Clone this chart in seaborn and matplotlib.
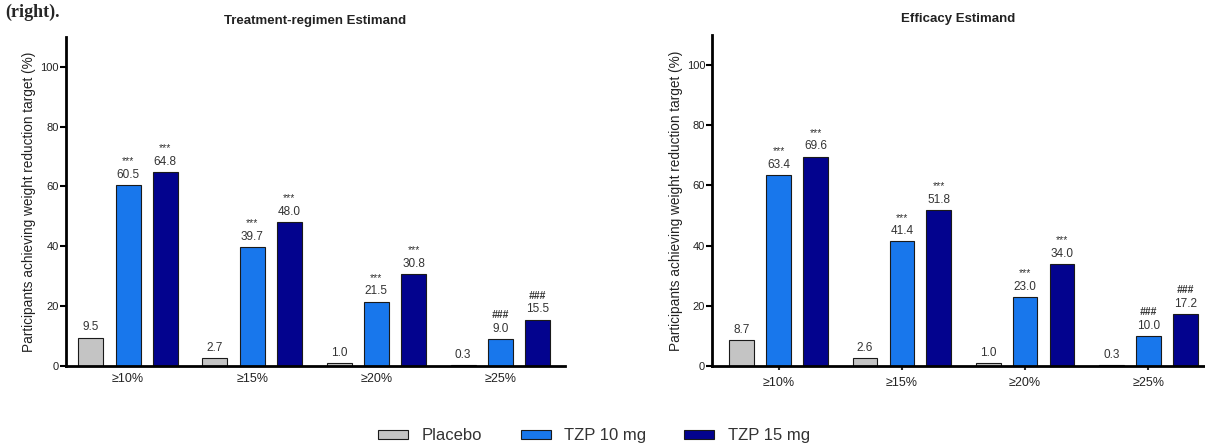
import matplotlib
matplotlib.use("Agg")
import matplotlib.pyplot as plt
import seaborn as sns
import pandas as pd

sns.set_theme(style="white")
plt.rcParams['font.family'] = ['Liberation Sans', 'DejaVu Sans']

categories = ["≥10%", "≥15%", "≥20%", "≥25%"]
groups = ["Placebo", "TZP 10 mg", "TZP 15 mg"]

tr_placebo = [9.5, 2.7, 1.0, 0.3]
tr_tzp10 = [60.5, 39.7, 21.5, 9.0]
tr_tzp15 = [64.8, 48.0, 30.8, 15.5]

ef_placebo = [8.7, 2.6, 1.0, 0.3]
ef_tzp10 = [63.4, 41.4, 23.0, 10.0]
ef_tzp15 = [69.6, 51.8, 34.0, 17.2]

sig_marks = ["***", "***", "***", "###"]

titles = ["Treatment-regimen Estimand", "Efficacy Estimand"]
ylabel = "Participants achieving weight reduction target (%)"

palette = {"Placebo": "#c4c4c4", "TZP 10 mg": "#1877ec", "TZP 15 mg": "#03038e"}


def make_df(p, t10, t15):
    rows = []
    for g, vals in zip(groups, [p, t10, t15]):
        for c, v in zip(categories, vals):
            rows.append({"cat": c, "grp": g, "val": v})
    return pd.DataFrame(rows)


fig = plt.figure(figsize=(12.05, 4.45), dpi=100)
ax1 = fig.add_axes([0.0548, 0.1775, 0.414, 0.74])
ax2 = fig.add_axes([0.591, 0.1775, 0.409, 0.744])

datasets = [make_df(tr_placebo, tr_tzp10, tr_tzp15), make_df(ef_placebo, ef_tzp10, ef_tzp15)]
handles = labels = None
for i, (ax, df, title) in enumerate(zip([ax1, ax2], datasets, titles)):
    sns.barplot(data=df, x="cat", y="val", hue="grp", order=categories, hue_order=groups,
                palette=palette, saturation=1, width=0.9, gap=0.33, edgecolor="#1a1a1a",
                linewidth=0.8, errorbar=None, ax=ax)
    if handles is None:
        handles, labels = ax.get_legend_handles_labels()
    ax.get_legend().remove()
    ax.set_ylim(0, 110)
    ax.set_yticks([0, 20, 40, 60, 80, 100])
    ax.set_xlim(-0.5 if i == 0 else -0.54, 3.52 if i == 0 else 3.46)
    ax.set_xlabel("")
    ax.set_ylabel(ylabel, fontsize=9.8, color="#222222", labelpad=3)
    ax.set_title(title, fontsize=9.5, fontweight="bold", color="#222222", pad=9)
    for s in ["top", "right"]:
        ax.spines[s].set_visible(False)
    for s in ["left", "bottom"]:
        ax.spines[s].set_linewidth(2)
        ax.spines[s].set_color("black")
    ax.tick_params(axis="y", direction="out", length=4, width=1.5, labelsize=8,
                   colors="black", labelcolor="#222222", left=True, pad=1)
    ax.tick_params(axis="x", direction="out", length=0 if i == 0 else 3, width=1.5,
                   labelsize=9, labelcolor="#222222", bottom=True, pad=5)

    for gi, cont in enumerate(ax.containers):
        for ci, bar in enumerate(cont):
            h = bar.get_height()
            xc = bar.get_x() + bar.get_width() / 2
            ax.annotate(f"{h:.1f}", (xc, h), xytext=(0, 3), textcoords="offset points",
                        ha="center", va="bottom", fontsize=8.5, color="#333333")
            if gi > 0:
                ax.annotate(sig_marks[ci], (xc, h), xytext=(0, 13.5), textcoords="offset points",
                            ha="center", va="bottom", fontsize=7.5,
                            fontstyle="italic" if sig_marks[ci] == "###" else "normal",
                            fontweight="bold" if sig_marks[ci] == "###" else "normal",
                            color="#333333")

fig.legend(handles, labels, loc="lower center", bbox_to_anchor=(0.493, -0.03), ncol=3,
           frameon=False, fontsize=12, handlelength=1.8, handleheight=0.5,
           handletextpad=0.8, columnspacing=2.3, labelcolor="#333333")

fig.text(0.004, 0.962, "(right).", fontsize=13, fontweight="bold",
         family=["Liberation Serif", "DejaVu Serif"], va="baseline", ha="left")

fig.savefig("out.png", dpi=100)
